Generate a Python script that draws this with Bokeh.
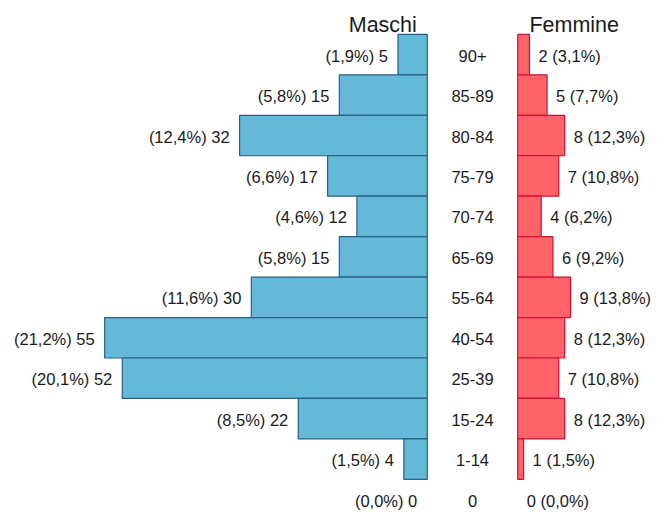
from bokeh.plotting import figure
from bokeh.models import Range1d, ColumnDataSource
from bokeh.core.properties import value
from bokeh.embed import file_html
from bokeh.resources import INLINE

# ---- data (top row first) ----
ages = ["90+", "85-89", "80-84", "75-79", "70-74", "65-69", "55-64", "40-54", "25-39", "15-24", "1-14", "0"]
males = [5, 15, 32, 17, 12, 15, 30, 55, 52, 22, 4, 0]
male_pct = ["1,9", "5,8", "12,4", "6,6", "4,6", "5,8", "11,6", "21,2", "20,1", "8,5", "1,5", "0,0"]
females = [2, 5, 8, 7, 4, 6, 9, 8, 7, 8, 1, 0]
female_pct = ["3,1", "7,7", "12,3", "10,8", "6,2", "9,2", "13,8", "12,3", "10,8", "12,3", "1,5", "0,0"]

W, H = 653, 511
PX = 5.866         # pixels per person
ROW = 40.45        # pixels per row
GAP = 15.42        # offset of female baseline in persons
x0 = -426.8 / PX
y0 = -54.1 / ROW

p = figure(width=W, height=H, output_backend="svg", toolbar_location=None,
           x_range=Range1d(x0, x0 + W / PX), y_range=Range1d(y0 + H / ROW, y0),
           min_border=0, outline_line_color=None, background_fill_color="white")
p.axis.visible = False
p.grid.visible = False

rows = list(range(len(ages)))
font = value("Liberation Sans")

mi = [i for i in rows if males[i] > 0]
msrc = ColumnDataSource(dict(y=mi, left=[-males[i] for i in mi], right=[0] * len(mi)))
p.hbar(y="y", left="left", right="right", height=1.0, source=msrc,
       fill_color="#64B8D8", line_color="#2B5F85", line_width=1.2)

fi = [i for i in rows if females[i] > 0]
fsrc = ColumnDataSource(dict(y=fi, left=[GAP] * len(fi), right=[GAP + females[i] for i in fi]))
p.hbar(y="y", left="left", right="right", height=1.0, source=fsrc,
       fill_color="#FF6367", line_color="#D0103A", line_width=1.2)

mlab = ColumnDataSource(dict(x=[-m for m in males], y=rows,
                             t=[f"({pc}%) {m}" for m, pc in zip(males, male_pct)]))
p.text(x="x", y="y", text="t", source=mlab, x_offset=-10, y_offset=1,
       text_align="right", text_baseline="middle", text_font=font,
       text_font_size="16.5px", text_color="#1a1a1a")

flab = ColumnDataSource(dict(x=[GAP + f for f in females], y=rows,
                             t=[f"{f} ({pc}%)" for f, pc in zip(females, female_pct)]))
p.text(x="x", y="y", text="t", source=flab, x_offset=9, y_offset=1,
       text_align="left", text_baseline="middle", text_font=font,
       text_font_size="16.5px", text_color="#1a1a1a")

alab = ColumnDataSource(dict(x=[GAP / 2] * len(ages), y=rows, t=ages))
p.text(x="x", y="y", text="t", source=alab, y_offset=1,
       text_align="center", text_baseline="middle", text_font=font,
       text_font_size="16.5px", text_color="#1a1a1a")

p.text(x=[-7.59, 25.04], y=[-0.72, -0.72], text=["Maschi", "Femmine"],
       text_align="center", text_baseline="middle", text_font=font,
       text_font_size="21.5px", text_color="#1a1a1a")

open("out.html", "w").write(file_html(p, INLINE))
